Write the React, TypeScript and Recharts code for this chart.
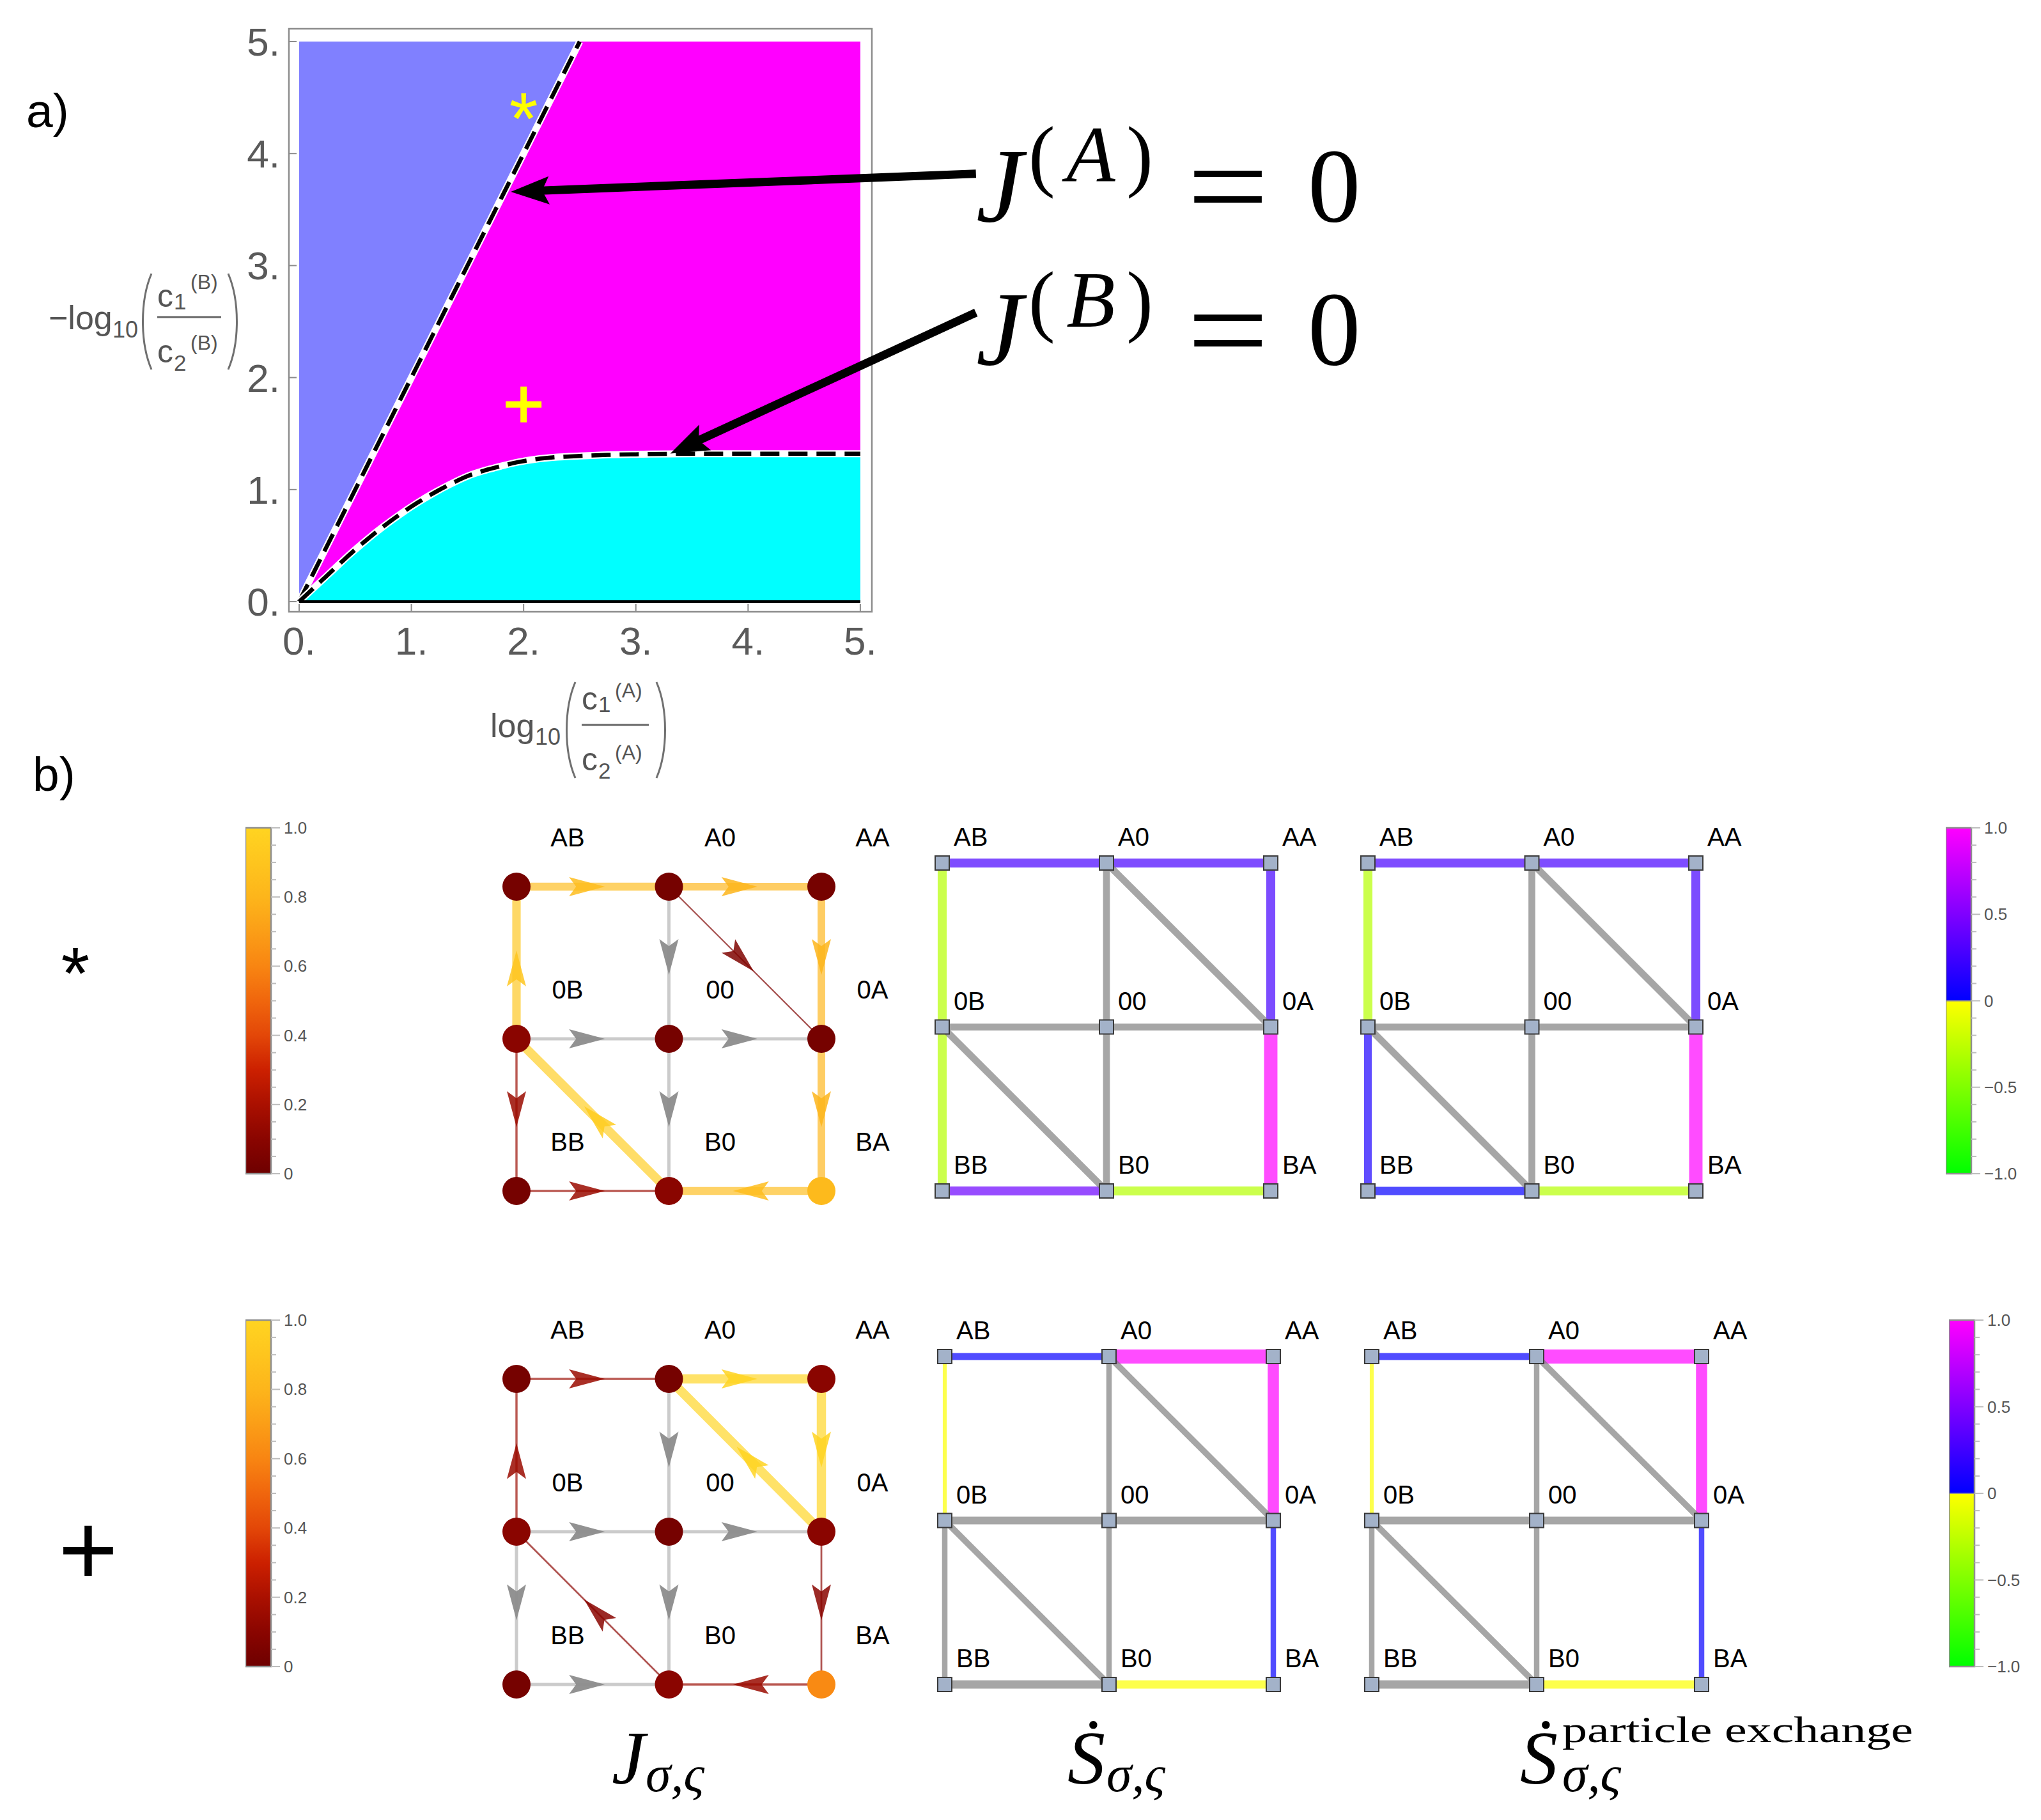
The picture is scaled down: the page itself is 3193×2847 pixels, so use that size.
import React from "react";
import { Area, ComposedChart, Line, ReferenceArea, ReferenceLine, Scatter, XAxis, YAxis } from "recharts";

const SANS = "'Liberation Sans', Arial, sans-serif";
const SERIF = "'Liberation Serif', 'DejaVu Serif', serif";

// ---------- panel a: phase diagram ----------
const xGrid = [0, 0.15, 0.3, 0.45, 0.6, 0.75, 0.9, 1.05, 1.2, 1.35, 1.5, 1.65, 1.8, 1.95, 2.1, 2.3, 2.5, 2.75, 3.0, 3.5, 4.0, 5.0];
// J^(A)=0 boundary (clipped at the top of the plot range)
const jaZero = [0, 0.3, 0.6, 0.9, 1.2, 1.5, 1.8, 2.1, 2.4, 2.7, 3.0, 3.3, 3.6, 3.9, 4.2, 4.6, 5.0, 5, 5, 5, 5, 5];
// J^(B)=0 boundary
const jbZero = [0, 0.14, 0.28, 0.42, 0.55, 0.67, 0.78, 0.88, 0.97, 1.05, 1.12, 1.17, 1.21, 1.245, 1.27, 1.29, 1.3, 1.31, 1.315, 1.32, 1.32, 1.32];
const axisTicks = [0, 1, 2, 3, 4, 5];
const markerPoints = [
  { x: 2.0, y: 4.45, sym: "star" },
  { x: 2.0, y: 1.76, sym: "plus" },
];
const arrowJA = [{ x: 6.03, y: 3.82 }, { x: 2.0, y: 3.663 }];
const arrowJB = [{ x: 6.03, y: 2.58 }, { x: 3.41, y: 1.37 }];

const yMax = axisTicks[axisTicks.length - 1];
const jaTopIdx = jaZero.indexOf(yMax);
const regionRows = xGrid.map((x, i) => ({
  x,
  top: yMax,
  ja: jaZero[i],
  jb: jbZero[i],
  jaEdge: i <= jaTopIdx ? jaZero[i] : null,
}));

// ---------- panel b: networks ----------
const stateNames = ["AB", "A0", "AA", "0B", "00", "0A", "BB", "B0", "BA"];
const stateCol = [0, 1, 2, 0, 1, 2, 0, 1, 2];
const stateRow = [2, 2, 2, 1, 1, 1, 0, 0, 0];
const links = [
  ["AB", "A0"], ["A0", "AA"], ["AA", "0A"], ["0A", "BA"], ["BA", "B0"], ["B0", "BB"], ["BB", "0B"],
  ["0B", "AB"], ["A0", "00"], ["00", "B0"], ["0B", "00"], ["00", "0A"], ["A0", "0A"], ["0B", "B0"],
];

// normalised currents, signed along the link order (|J| < 0.01 drawn grey)
const currentStar = [0.85, 0.8, 0.8, 0.8, 0.85, -0.15, -0.15, 0.9, 0.004, 0.004, 0.004, 0.004, 0.06, -0.95];
const currentPlus = [0.15, 1.0, 1.0, 0.1, 0.15, -0.004, -0.004, 0.15, 0.004, 0.004, 0.004, 0.004, -1.0, -0.1];
const occupStar = [0.03, 0.03, 0.03, 0.1, 0.03, 0.03, 0.03, 0.1, 0.83];
const occupPlus = [0.03, 0.03, 0.1, 0.1, 0.03, 0.1, 0.03, 0.1, 0.62];

// normalised entropy production per link (null = grey)
const entropyStar = [0.28, 0.28, 0.27, 1.0, -0.29, 0.42, -0.29, -0.29, null, null, null, null, null, null];
const entropyStarPE = [0.28, 0.28, 0.27, 1.0, -0.29, 0.02, 0.11, -0.29, null, null, null, null, null, null];
const entropyPlus = [0.02, 1.0, 1.0, 0.02, -0.01, null, null, -0.01, null, null, null, null, null, null];
const entropyPlusPE = [0.02, 1.0, 1.0, 0.02, -0.01, null, null, -0.01, null, null, null, null, null, null];
// magnitudes (edge thickness)
const magStar = [0.56, 0.56, 0.56, 0.94, 0.56, 0.56, 0.56, 0.56, 0.375, 0.375, 0.375, 0.375, 0.375, 0.375];
const magStarPE = [0.56, 0.56, 0.56, 0.94, 0.56, 0.5, 0.45, 0.56, 0.375, 0.375, 0.375, 0.375, 0.375, 0.375];
const magPlus = [0.38, 1.0, 0.75, 0.25, 0.5, 0.5, 0.25, 0.12, 0.25, 0.25, 0.44, 0.44, 0.31, 0.31];

const occTicks = [0, 0.05, 0.1, 0.15, 0.2, 0.25, 0.3, 0.35, 0.4, 0.45, 0.5, 0.55, 0.6, 0.65, 0.7, 0.75, 0.8, 0.85, 0.9, 0.95, 1];
const occMajor = [0, 0.2, 0.4, 0.6, 0.8, 1];
const entTicks = [-1, -0.9, -0.8, -0.7, -0.6, -0.5, -0.4, -0.3, -0.2, -0.1, 0, 0.1, 0.2, 0.3, 0.4, 0.5, 0.6, 0.7, 0.8, 0.9, 1];
const entMajor = [-1, -0.5, 0, 0.5, 1];

// ---------- colour maps ----------
const solarStops: [number, string][] = [
  [0, "#6E0000"], [0.1, "#8A0500"], [0.2, "#AA1000"], [0.3, "#CC2000"], [0.4, "#E34708"], [0.5, "#F0660D"],
  [0.6, "#F88512"], [0.7, "#FB9E17"], [0.8, "#FDB51B"], [0.9, "#FEC51E"], [1, "#FFD421"],
];
const hex = (h: string) => [1, 3, 5].map((k) => parseInt(h.slice(k, k + 2), 16));
function solar(v: number) {
  const t = Math.max(0, Math.min(1, v));
  for (let i = 1; i < solarStops.length; i++) {
    const [o1, c1] = solarStops[i - 1];
    const [o2, c2] = solarStops[i];
    if (t <= o2) {
      const f = (t - o1) / (o2 - o1);
      const a = hex(c1), b = hex(c2);
      return `rgb(${a.map((c, k) => Math.round(c + (b[k] - c) * f)).join(",")})`;
    }
  }
  return solarStops[solarStops.length - 1][1];
}
function pm(v: number) {
  if (v >= 0) return `rgb(${Math.round(255 * v)},0,255)`;
  return `rgb(${Math.round(255 * (1 + v))},255,0)`;
}
const entStops: [number, string][] = [[0, pm(-1)], [0.5, pm(-0.0001)], [0.5, pm(0)], [1, pm(1)]];

// ---------- network chart ----------
const PAD = 110;

function CurrentNode(props: any) {
  const { cx, cy, payload } = props;
  return (
    <g>
      <circle cx={cx} cy={cy} r={22} fill={solar(payload.p)} />
      <text x={cx + 80} y={cy - 63} textAnchor="middle" fontSize={40} fontFamily={SANS} fill="#000">{payload.name}</text>
    </g>
  );
}

function EntropyNode(props: any) {
  const { cx, cy, payload } = props;
  return (
    <g>
      <rect x={cx - 11} y={cy - 11} width={22} height={22} fill="#A3B2C9" stroke="#3a3a3a" strokeWidth={2} />
      <text x={cx + 18} y={cy - 27} fontSize={40} fontFamily={SANS} fill="#000">{payload.name}</text>
    </g>
  );
}

function NetworkChart({ id, left, top, w, h, kind, values, mags, occupation }: any) {
  const pos = (n: string) => {
    const i = stateNames.indexOf(n);
    return { x: stateCol[i], y: stateRow[i] };
  };
  const nodes = stateNames.map((name, i) => ({ x: stateCol[i], y: stateRow[i], name, p: occupation ? occupation[i] : 0 }));
  const edges = links.map(([a, b], i) => {
    const v = values[i];
    let p0 = pos(a);
    let p1 = pos(b);
    if (kind === "current" && v < 0) [p0, p1] = [p1, p0];
    const mid = { x: (p0.x + p1.x) / 2, y: (p0.y + p1.y) / 2 };
    let stroke = "#808080", width = 5, opacity = 0.7, head = "#8c8c8c", headOp = 0.95;
    if (kind === "current") {
      const m = Math.abs(v);
      if (m < 0.01) {
        stroke = "#a0a0a0"; opacity = 0.55; width = 5;
      } else {
        stroke = solar(m); head = solar(m); opacity = 0.68; headOp = 0.85; width = 1.5 + 13 * m;
      }
    } else {
      if (v !== null) stroke = pm(v);
      width = 4 + 18 * mags[i];
    }
    return { key: `${a}-${b}`, pts: kind === "current" ? [p0, mid, p1] : [p0, p1], stroke, width, opacity, head, headOp };
  });
  return (
    <div style={{ position: "absolute", left: left - PAD, top: top - PAD }}>
      <ComposedChart width={w + 2 * PAD} height={h + 2 * PAD} margin={{ top: PAD, right: PAD, bottom: PAD, left: PAD }}>
        <defs>
          {kind === "current" &&
            edges.map((e, i) => (
              <marker key={i} id={`${id}-m${i}`} markerUnits="userSpaceOnUse" markerWidth={64} markerHeight={40} refX={37} refY={20} orient="auto" overflow="visible">
                <path d="M56,20 L0,5 L11,20 L0,35 Z" fill={e.head} fillOpacity={e.headOp} />
              </marker>
            ))}
        </defs>
        <XAxis type="number" dataKey="x" domain={[0, 2]} hide />
        <YAxis type="number" domain={[0, 2]} hide />
        {edges.map((e, i) => (
          <Line
            key={e.key}
            data={e.pts}
            dataKey="y"
            type="linear"
            stroke={e.stroke}
            strokeWidth={e.width}
            strokeOpacity={e.opacity}
            dot={false}
            activeDot={false}
            isAnimationActive={false}
            markerMid={kind === "current" ? `url(#${id}-m${i})` : undefined}
          />
        ))}
        <Scatter data={nodes} dataKey="y" shape={kind === "current" ? CurrentNode : EntropyNode} isAnimationActive={false} />
      </ComposedChart>
    </div>
  );
}

// ---------- colour bars ----------
function makeCbTick(majors: number[], fmt: (v: number) => string) {
  return (props: any) => {
    const { x, y, payload } = props;
    const v = payload.value;
    const major = majors.some((m) => Math.abs(m - v) < 1e-6);
    return (
      <g>
        <line x1={x} x2={x + (major ? 14 : 8)} y1={y} y2={y} stroke="#bdbdbd" strokeWidth={2} />
        {major && (
          <text x={x + 20} y={y + 9} fontSize={26} fill="#555" fontFamily={SANS}>{fmt(v)}</text>
        )}
      </g>
    );
  };
}

const emptyShape = () => <g />;

function ColorBar({ id, left, top, w, h, domain, ticks, majors, fmt, stops, zeroLine }: any) {
  const PV = 30;
  const rows = ticks.map((v: number) => ({ x: 0.5, v }));
  return (
    <div style={{ position: "absolute", left, top: top - PV }}>
      <ComposedChart width={w + 150} height={h + 2 * PV} data={rows} margin={{ top: PV, bottom: PV, left: 0, right: 50 }}>
        <defs>
          <linearGradient id={id} x1="0" y1="1" x2="0" y2="0">
            {stops.map(([o, c]: [number, string], i: number) => (
              <stop key={i} offset={o} stopColor={c} />
            ))}
          </linearGradient>
        </defs>
        <XAxis type="number" dataKey="x" domain={[0, 1]} hide />
        <YAxis
          type="number"
          orientation="right"
          domain={domain}
          ticks={ticks}
          interval={0}
          width={100}
          axisLine={false}
          tickLine={false}
          tickSize={0}
          tickMargin={0}
          tick={makeCbTick(majors, fmt)}
        />
        <ReferenceArea x1={0} x2={1} y1={domain[0]} y2={domain[1]} fill={`url(#${id})`} fillOpacity={1} stroke="#8f8f8f" strokeWidth={2.5} />
        {zeroLine && <ReferenceLine y={0} stroke="#8f8f8f" strokeWidth={2} />}
        <Scatter dataKey="v" shape={emptyShape} isAnimationActive={false} />
      </ComposedChart>
    </div>
  );
}

const fmtOcc = (v: number) => (v === 0 ? "0" : v.toFixed(1));
const fmtEnt = (v: number) => (v === 0 ? "0" : (v < 0 ? "\u2212" : "") + Math.abs(v).toFixed(1));

// ---------- panel a chart ----------
function MarkerShape(props: any) {
  const { cx, cy, payload } = props;
  if (payload.sym === "star") {
    return <text x={cx} y={cy + 64} textAnchor="middle" fontSize={115} fontFamily={SANS} fill="#FFFF00">*</text>;
  }
  return (
    <g fill="#FFFF00">
      <rect x={cx - 28} y={cy - 5} width={56} height={10} />
      <rect x={cx - 5} y={cy - 28} width={10} height={56} />
    </g>
  );
}

function RegionPlot() {
  const tickStyle = { fontSize: 62, fill: "#5a5a5a", fontFamily: SANS };
  return (
    <div style={{ position: "absolute", left: 0, top: 0 }}>
      <ComposedChart width={2200} height={1250} data={regionRows} margin={{ top: 45, right: 836, bottom: 213, left: 372 }}>
        <defs>
          <marker id="annHead" markerUnits="userSpaceOnUse" markerWidth={62} markerHeight={46} refX={40} refY={22} orient="auto" overflow="visible">
            <path d="M0,0 L60,22 L0,44 L11,22 Z" fill="#000" />
          </marker>
        </defs>
        <XAxis
          type="number"
          dataKey="x"
          domain={[-0.091, 5.103]}
          ticks={axisTicks}
          interval={0}
          tickFormatter={(v: number) => `${v}.`}
          height={80}
          axisLine={false}
          tickSize={-12}
          tickMargin={35}
          tickLine={{ stroke: "#8c8c8c", strokeWidth: 2 }}
          tick={tickStyle}
        />
        <YAxis
          type="number"
          domain={[-0.091, 5.114]}
          ticks={axisTicks}
          interval={0}
          tickFormatter={(v: number) => `${v}.`}
          width={80}
          axisLine={false}
          tickSize={-12}
          tickMargin={26}
          tickLine={{ stroke: "#8c8c8c", strokeWidth: 2 }}
          tick={tickStyle}
        />
        <Area dataKey="top" type="linear" fill="#8080FF" fillOpacity={1} stroke="none" baseValue={0} isAnimationActive={false} />
        <Area dataKey="ja" type="linear" fill="#FF00FF" fillOpacity={1} stroke="none" baseValue={0} isAnimationActive={false} />
        <Area dataKey="jb" type="monotone" fill="#00FFFF" fillOpacity={1} stroke="none" baseValue={0} isAnimationActive={false} />
        <Line dataKey="jaEdge" type="linear" stroke="#fff" strokeWidth={11} dot={false} activeDot={false} isAnimationActive={false} />
        <Line dataKey="jaEdge" type="linear" stroke="#000" strokeWidth={6.5} strokeDasharray="30 14" dot={false} activeDot={false} isAnimationActive={false} />
        <Line dataKey="jb" type="monotone" stroke="#fff" strokeWidth={11} dot={false} activeDot={false} isAnimationActive={false} />
        <Line dataKey="jb" type="monotone" stroke="#000" strokeWidth={6.5} strokeDasharray="30 14" dot={false} activeDot={false} isAnimationActive={false} />
        <ReferenceLine segment={[{ x: 0, y: 0 }, { x: 5, y: 0 }]} stroke="#000" strokeWidth={4} />
        <Scatter data={markerPoints} dataKey="y" shape={MarkerShape} isAnimationActive={false} />
        <ReferenceLine segment={arrowJA} ifOverflow="visible" stroke="#000" strokeWidth={13} markerEnd="url(#annHead)" />
        <ReferenceLine segment={arrowJB} ifOverflow="visible" stroke="#000" strokeWidth={13} markerEnd="url(#annHead)" />
        <ReferenceArea x1={-0.091} x2={5.103} y1={-0.091} y2={5.114} fill="none" stroke="#8c8c8c" strokeWidth={2.5} />
      </ComposedChart>
    </div>
  );
}

// ---------- text annotations ----------
function Annotations() {
  const g = "#555";
  const pc = "#707070";
  return (
    <svg width={3193} height={2847} style={{ position: "absolute", left: 0, top: 0, pointerEvents: "none" }}>
      <text x={41} y={199} fontSize={75} fontFamily={SANS} fill="#000">a)</text>
      <text x={51} y={1237} fontSize={75} fontFamily={SANS} fill="#000">b)</text>

      {/* y axis label */}
      <g fontFamily={SANS} fill={g}>
        <text x={76} y={515} fontSize={52}>{"\u2212log"}</text>
        <text x={176} y={528} fontSize={36}>10</text>
        <text x={246} y={480} fontSize={50}>c</text>
        <text x={272} y={484} fontSize={35}>1</text>
        <text x={298} y={452} fontSize={32}>(B)</text>
        <text x={246} y={567} fontSize={50}>c</text>
        <text x={272} y={580} fontSize={35}>2</text>
        <text x={298} y={547} fontSize={32}>(B)</text>
      </g>
      <line x1={246} x2={346} y1={496} y2={496} stroke="#666" strokeWidth={3} />
      <path d="M237,428 C219,470 219,536 237,578" stroke={pc} strokeWidth={3} fill="none" />
      <path d="M357,428 C375,470 375,536 357,578" stroke={pc} strokeWidth={3} fill="none" />

      {/* x axis label */}
      <g fontFamily={SANS} fill={g}>
        <text x={767} y={1153} fontSize={52}>log</text>
        <text x={837} y={1165} fontSize={36}>10</text>
        <text x={910} y={1110} fontSize={50}>c</text>
        <text x={936} y={1114} fontSize={35}>1</text>
        <text x={962} y={1091} fontSize={32}>(A)</text>
        <text x={910} y={1205} fontSize={50}>c</text>
        <text x={936} y={1218} fontSize={35}>2</text>
        <text x={962} y={1188} fontSize={32}>(A)</text>
      </g>
      <line x1={910} x2={1015} y1={1134} y2={1134} stroke="#666" strokeWidth={3} />
      <path d="M900,1067 C882,1109 882,1175 900,1217" stroke={pc} strokeWidth={3} fill="none" />
      <path d="M1027,1067 C1045,1109 1045,1175 1027,1217" stroke={pc} strokeWidth={3} fill="none" />

      {/* J = 0 annotations */}
      <g fontFamily={SERIF} fill="#000">
        <text x={1527} y={346} fontSize={165} fontStyle="italic">J</text>
        <text x={1609} y={284} fontSize={125} textLength={195} lengthAdjust="spacing">
          (<tspan fontStyle="italic">A</tspan>)
        </text>
        <text x={1857} y={358} fontSize={200} textLength={128} lengthAdjust="spacingAndGlyphs">=</text>
        <text x={2046} y={346} fontSize={165}>0</text>

        <text x={1527} y={570} fontSize={165} fontStyle="italic">J</text>
        <text x={1609} y={511} fontSize={125} textLength={195} lengthAdjust="spacing">
          (<tspan fontStyle="italic">B</tspan>)
        </text>
        <text x={1857} y={583} fontSize={200} textLength={128} lengthAdjust="spacingAndGlyphs">=</text>
        <text x={2046} y={570} fontSize={165}>0</text>
      </g>

      {/* row markers */}
      <text x={118} y={1562} textAnchor="middle" fontSize={115} fontFamily={SANS} fill="#000">*</text>
      <text x={138} y={2479} textAnchor="middle" fontSize={160} fontFamily={SANS} fill="#000">+</text>

      {/* column captions */}
      <g fontFamily={SERIF} fill="#000" fontStyle="italic">
        <text x={957} y={2790} fontSize={118}>J</text>
        <text x={1010} y={2802} fontSize={80}>σ,ς</text>
        <text x={1670} y={2790} fontSize={118}>Ṡ</text>
        <text x={1731} y={2802} fontSize={80}>σ,ς</text>
        <text x={2378} y={2790} fontSize={118}>Ṡ</text>
        <text x={2444} y={2802} fontSize={80}>σ,ς</text>
      </g>
      <text x={2444} y={2725} fontSize={56} fontFamily={SERIF} fill="#000" textLength={549} lengthAdjust="spacingAndGlyphs">particle exchange</text>
    </svg>
  );
}

export default function App() {
  return (
    <div style={{ position: "absolute", left: 0, top: 0, width: 3193, height: 2847, background: "#fff", overflow: "hidden" }}>
      <RegionPlot />

      <NetworkChart id="jStar" left={808} top={1387} w={477} h={476} kind="current" values={currentStar} occupation={occupStar} />
      <NetworkChart id="sStar" left={1474} top={1350} w={514} h={513} kind="entropy" values={entropyStar} mags={magStar} />
      <NetworkChart id="pStar" left={2140} top={1350} w={513} h={513} kind="entropy" values={entropyStarPE} mags={magStarPE} />

      <NetworkChart id="jPlus" left={808} top={2157} w={477} h={478} kind="current" values={currentPlus} occupation={occupPlus} />
      <NetworkChart id="sPlus" left={1478} top={2122} w={514} h={513} kind="entropy" values={entropyPlus} mags={magPlus} />
      <NetworkChart id="pPlus" left={2146} top={2122} w={516} h={513} kind="entropy" values={entropyPlusPE} mags={magPlus} />

      <ColorBar id="cbOcc1" left={384} top={1295} w={40} h={541} domain={[0, 1]} ticks={occTicks} majors={occMajor} fmt={fmtOcc} stops={solarStops} />
      <ColorBar id="cbOcc2" left={384} top={2065} w={40} h={542} domain={[0, 1]} ticks={occTicks} majors={occMajor} fmt={fmtOcc} stops={solarStops} />
      <ColorBar id="cbEnt1" left={3044} top={1295} w={40} h={541} domain={[-1, 1]} ticks={entTicks} majors={entMajor} fmt={fmtEnt} stops={entStops} zeroLine />
      <ColorBar id="cbEnt2" left={3049} top={2065} w={40} h={542} domain={[-1, 1]} ticks={entTicks} majors={entMajor} fmt={fmtEnt} stops={entStops} zeroLine />

      <Annotations />
    </div>
  );
}
